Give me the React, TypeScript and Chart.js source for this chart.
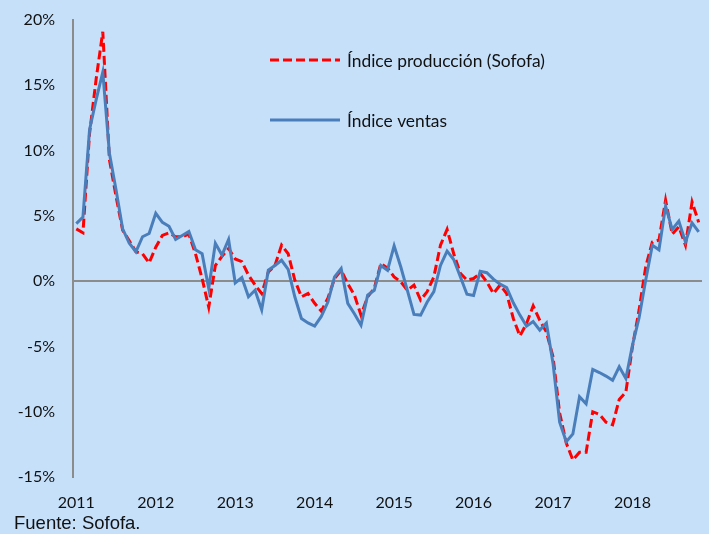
import React, { useEffect, useRef } from "react";
import { Chart, registerables } from "chart.js";

Chart.register(...registerables);

const years = ["2011", "2012", "2013", "2014", "2015", "2016", "2017", "2018"];
const monthNames = ["01", "02", "03", "04", "05", "06", "07", "08", "09", "10", "11", "12"];
// Jan 2011 .. Nov 2018 (95 months)
const months: string[] = years.flatMap((y) => monthNames.map((m) => `${y}-${m}`)).slice(0, 95);

const produccion = [
  4.0, 3.7, 11.3, 15.5, 19.1, 9.3, 6.5, 3.9, 3.1, 2.25, 2.1, 1.4,
  2.6, 3.5, 3.7, 3.4, 3.4, 3.6, 2.1, 0.2, -2.0, 1.2, 1.9, 2.5,
  1.7, 1.5, 0.46, -0.3, -0.95, 0.7, 1.2, 2.75, 2.1, 0.08, -1.2, -0.95,
  -1.7, -2.3, -1.3, 0.2, 0.84, -0.2, -1.07, -2.6, -1.2, -0.56, 1.35, 1.0,
  0.33, -0.05, -0.7, -0.3, -1.45, -0.8, 0.33, 2.75, 3.96, 2.1, 0.6, 0.08,
  0.2, 0.6, -0.05, -0.95, -0.3, -0.95, -2.86, -4.2, -3.24, -1.9, -3.0, -3.9,
  -5.8, -10.1, -12.4, -13.7, -13.1, -13.1, -10.0, -10.2, -10.8, -11.0, -9.06, -8.5,
  -5.0, -2.2, 1.1, 3.0, 3.14, 6.2, 3.6, 4.16, 2.75, 6.07, 4.5,
];

const ventas = [
  4.4, 4.9, 11.6, 13.9, 16.0, 9.8, 7.0, 4.0, 2.9, 2.25, 3.4, 3.65,
  5.2, 4.5, 4.2, 3.2, 3.5, 3.8, 2.4, 2.1, -0.56, 2.9, 2.0, 3.2,
  -0.13, 0.28, -1.2, -0.7, -2.2, 0.84, 1.2, 1.6, 0.9, -1.2, -2.86, -3.2,
  -3.45, -2.7, -1.6, 0.33, 0.97, -1.7, -2.5, -3.37, -1.07, -0.7, 1.2, 0.84,
  2.7, 1.1, -0.7, -2.55, -2.6, -1.6, -0.8, 1.2, 2.3, 1.66, 0.33, -1.0,
  -1.1, 0.75, 0.65, 0.15, -0.23, -0.49, -1.66, -2.6, -3.45, -3.1, -3.75, -3.2,
  -6.3, -10.8, -12.3, -11.7, -8.86, -9.4, -6.76, -7.0, -7.27, -7.6, -6.56, -7.45,
  -4.9, -2.8, 0.08, 2.75, 2.4, 5.74, 3.96, 4.6, 3.0, 4.46, 3.78,
];

const seriesNames = ["Índice producción (Sofofa)", "Índice ventas"];
const yMin = -15;
const yMax = 20;
const yStep = 5;

const BG = "rgb(198,224,250)";
const RED = "#FF0000";
const BLUE = "#4A7EBB";
const AXIS = "#8c8c8c";
const CLEAR = "rgba(0,0,0,0)";
const FONT = "Lato, 'Open Sans', sans-serif";

const legendPlugin = {
  id: "insideLegend",
  afterDraw(chart: any) {
    const ctx = chart.ctx;
    ctx.save();
    const rows = [60, 120];
    chart.data.datasets.forEach((ds: any, k: number) => {
      const y = rows[k];
      ctx.beginPath();
      ctx.strokeStyle = ds.borderColor;
      ctx.lineWidth = ds.borderWidth;
      ctx.setLineDash(ds.borderDash || []);
      ctx.moveTo(270, y);
      ctx.lineTo(340, y);
      ctx.stroke();
      ctx.setLineDash([]);
      ctx.fillStyle = "#111";
      ctx.font = `17.4px ${FONT}`;
      ctx.textBaseline = "middle";
      ctx.textAlign = "left";
      ctx.fillText(ds.label, 347, y + 1);
    });
    ctx.restore();
  },
};

export default function App() {
  const ref = useRef<HTMLCanvasElement | null>(null);

  useEffect(() => {
    if (!ref.current) return;
    const chart = new Chart(ref.current, {
      type: "line",
      data: {
        labels: months,
        datasets: [
          {
            label: seriesNames[0],
            data: produccion,
            borderColor: RED,
            borderWidth: 3,
            borderDash: [9, 4],
            pointRadius: 0,
            tension: 0,
            fill: false,
            order: 1,
          },
          {
            label: seriesNames[1],
            data: ventas,
            borderColor: BLUE,
            borderWidth: 3,
            pointRadius: 0,
            tension: 0,
            fill: false,
            order: 0,
          },
        ],
      },
      options: {
        responsive: false,
        animation: false,
        devicePixelRatio: 1,
        layout: { padding: { left: 0, right: 7, top: 20, bottom: 0 } },
        plugins: {
          legend: { display: false },
          tooltip: { enabled: false },
        },
        scales: {
          x: {
            type: "category",
            offset: true,
            grid: {
              display: true,
              drawOnChartArea: false,
              drawTicks: true,
              tickLength: 13,
              color: CLEAR,
              tickColor: CLEAR,
            },
            border: { display: false },
            ticks: {
              autoSkip: false,
              maxRotation: 0,
              minRotation: 0,
              padding: 3,
              color: "#111",
              font: { family: FONT, size: 16 },
              callback: (_v: any, i: number) => (months[i].endsWith("-01") ? months[i].slice(0, 4) : ""),
            },
            afterFit: (s: any) => {
              s.height = 57;
            },
          },
          y: {
            min: yMin,
            max: yMax,
            grid: {
              drawTicks: true,
              tickLength: 15,
              tickColor: CLEAR,
              lineWidth: 2,
              color: (c: any) => (c.tick && c.tick.value === 0 ? AXIS : CLEAR),
            },
            border: { display: true, color: AXIS, width: 2 },
            ticks: {
              stepSize: yStep,
              padding: 3,
              color: "#111",
              font: { family: FONT, size: 16 },
              callback: (v: any) => `${v}%`,
            },
            afterFit: (s: any) => {
              s.width = 73;
            },
          },
        },
      },
      plugins: [legendPlugin],
    });
    return () => chart.destroy();
  }, []);

  return (
    <div style={{ position: "fixed", left: 0, top: 0, width: 709, height: 534, background: BG, overflow: "hidden" }}>
      <canvas ref={ref} width={709} height={534} style={{ position: "absolute", left: 0, top: 0 }} />
      <div
        style={{
          position: "absolute",
          left: 14,
          top: 512,
          fontFamily: "'Liberation Sans', Arial, sans-serif",
          fontSize: 18.5,
          lineHeight: "22px",
          color: "#111",
          whiteSpace: "nowrap",
        }}
      >
        Fuente: Sofofa.
      </div>
    </div>
  );
}
